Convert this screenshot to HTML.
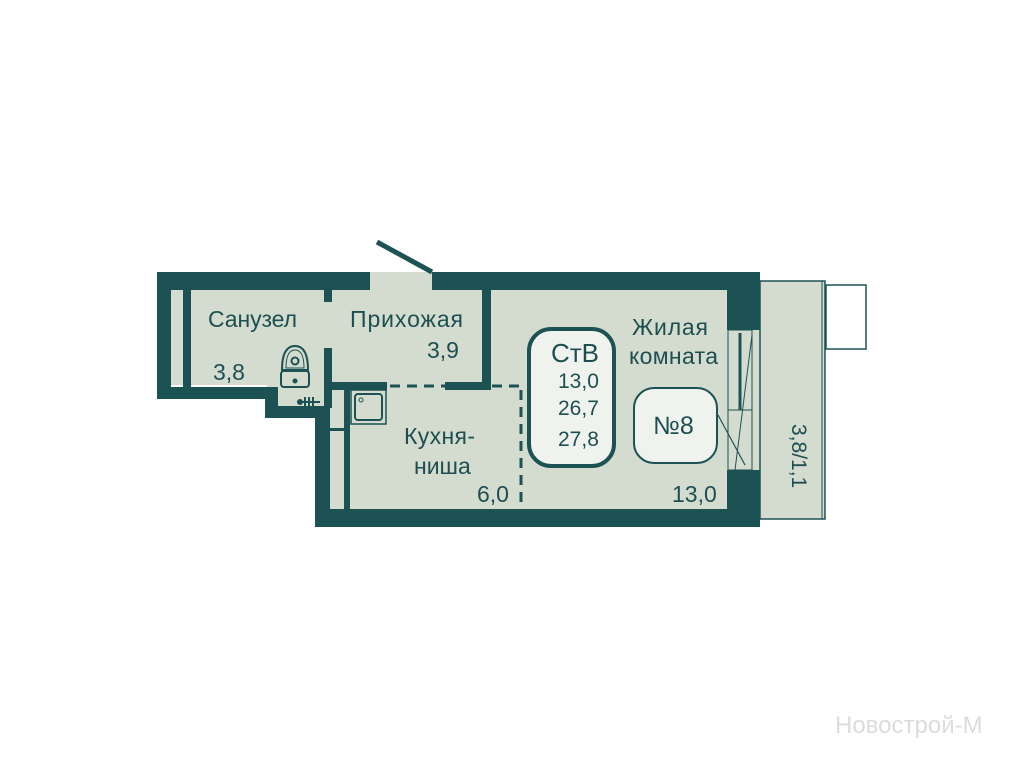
<!DOCTYPE html>
<html><head><meta charset="utf-8"><style>
html,body{margin:0;padding:0;background:#fff;}
svg{display:block}
text{font-family:"Liberation Sans",sans-serif;fill:#1d4f52}
</style></head><body>
<svg width="1024" height="768" viewBox="0 0 1024 768">
<g fill="#d4dbcf">
<rect x="160" y="272" width="600" height="248"/>
<rect x="266" y="385" width="60" height="25"/>
</g>
<rect x="157" y="385" width="110" height="140" fill="#fff"/>
<rect x="157" y="418" width="160" height="110" fill="#fff"/>
<!-- balcony -->
<rect x="760" y="281" width="65" height="238" fill="#d4dbcf" stroke="#1d5255" stroke-width="1.5"/>
<line x1="822" y1="281" x2="822" y2="519" stroke="#1d5255" stroke-width="1"/>
<rect x="826" y="285" width="40" height="64" fill="#fff" stroke="#1d5255" stroke-width="1.5"/>
<g fill="#1d5255">
<rect x="157" y="272" width="213" height="18"/>
<rect x="432" y="272" width="328" height="18"/>
<rect x="157" y="272" width="14" height="127"/>
<rect x="183" y="290" width="8" height="97"/>
<rect x="157" y="387" width="110" height="12"/>
<rect x="265" y="387" width="13" height="31"/>
<rect x="265" y="406" width="65" height="12"/>
<rect x="315" y="406" width="15" height="121"/>
<rect x="344" y="383" width="6" height="126"/>
<rect x="330" y="428" width="14" height="3"/>
<rect x="324" y="290" width="8" height="12"/>
<rect x="324" y="348" width="8" height="60"/>
<rect x="332" y="382" width="55" height="8"/>
<rect x="445" y="382" width="44" height="8"/>
<rect x="482" y="290" width="9" height="100"/>
<rect x="315" y="509" width="445" height="18"/>
<rect x="727" y="272" width="33" height="58"/>
<rect x="727" y="470" width="33" height="57"/>
</g>
<line x1="377" y1="242" x2="432" y2="272" stroke="#1d5255" stroke-width="5"/>
<line x1="390" y1="386" x2="520" y2="386" stroke="#1d5255" stroke-width="3" stroke-dasharray="10,7"/>
<line x1="521" y1="390" x2="521" y2="509" stroke="#1d5255" stroke-width="3" stroke-dasharray="10,7"/>
<g stroke="#1d5255" fill="none">
<rect x="728" y="330" width="24" height="140" stroke-width="1"/>
<line x1="728" y1="410" x2="752" y2="410" stroke-width="1"/>
<line x1="740" y1="333" x2="740" y2="410" stroke-width="3"/>
<line x1="752" y1="335" x2="735" y2="470" stroke-width="1"/>
<line x1="718" y1="415" x2="745" y2="465" stroke-width="1.2"/>
</g>
<!-- toilet -->
<g stroke="#1d5255" fill="none" stroke-width="2">
<path d="M282 370 Q282 346 295 346 Q308 346 308 370 Z"/>
<path d="M286 368 Q286 350 295 350 Q304 350 304 368 Z" stroke-width="1"/>
<circle cx="295" cy="361" r="3.5"/>
<rect x="281" y="371" width="28" height="16" rx="3"/>
</g>
<circle cx="295" cy="381" r="2.5" fill="#1d5255"/>
<g stroke="#1d5255" stroke-width="2"><line x1="297" y1="402" x2="320" y2="402"/><line x1="305" y1="397" x2="305" y2="407"/><line x1="309" y1="397" x2="309" y2="407"/><line x1="313" y1="397" x2="313" y2="407"/></g>
<circle cx="300" cy="402" r="3" fill="#1d5255"/>
<rect x="351" y="390" width="35" height="34" fill="none" stroke="#1d5255" stroke-width="1.5"/>
<rect x="355" y="394" width="27" height="26" rx="3" fill="none" stroke="#1d5255" stroke-width="2"/>
<circle cx="361" cy="400" r="2" fill="none" stroke="#1d5255"/>
<rect x="529" y="329" width="85" height="137" rx="22" fill="#f0f2ed" stroke="#1d5255" stroke-width="4"/>
<rect x="634" y="388" width="83" height="75" rx="20" fill="#f0f2ed" stroke="#1d5255" stroke-width="2"/>
<g font-size="23">
<text x="208" y="327" textLength="89">Санузел</text>
<text x="213" y="380">3,8</text>
<text x="350" y="327" textLength="113">Прихожая</text>
<text x="427" y="358">3,9</text>
<text x="404" y="444" textLength="71">Кухня-</text>
<text x="414" y="474">ниша</text>
<text x="477" y="502">6,0</text>
<text x="632" y="335" textLength="76">Жилая</text>
<text x="629" y="364" textLength="89">комната</text>
<text x="672" y="502">13,0</text>
</g>
<g font-size="21">
<text x="558" y="388">13,0</text>
<text x="558" y="415">26,7</text>
<text x="558" y="446">27,8</text>
</g>
<text x="551" y="362" font-size="26">СтВ</text>
<text x="653" y="434" font-size="25">№8</text>
<text transform="translate(792,424) rotate(90)" font-size="21">3,8/1,1</text>
<text x="835" y="733" font-size="24" style="fill:#dcdcdc">Новострой-М</text>
</svg>
</body></html>
